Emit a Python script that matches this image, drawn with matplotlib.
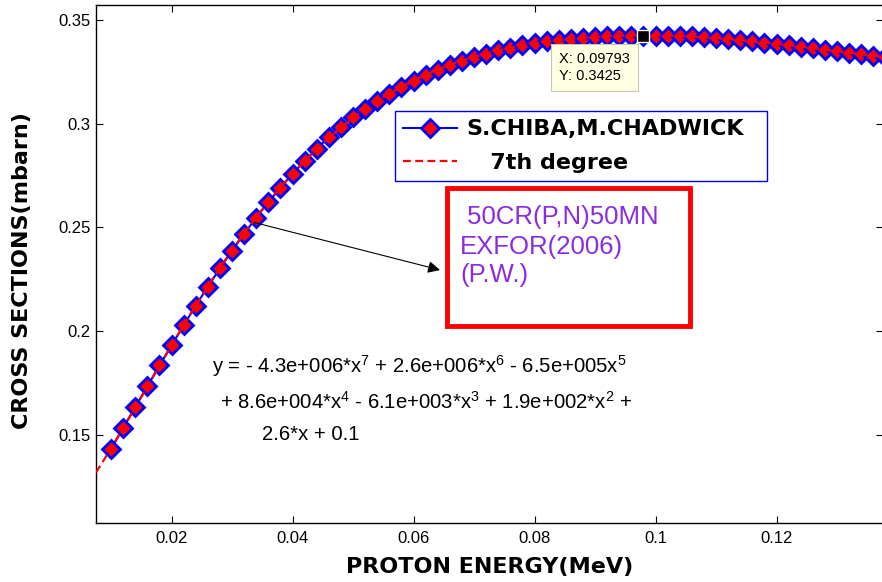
import numpy as np
import matplotlib
matplotlib.use("Agg")
import matplotlib.pyplot as plt
from matplotlib.lines import Line2D
from matplotlib.patches import Rectangle

plt.rcParams['font.family'] = ['Liberation Sans', 'DejaVu Sans']
plt.rcParams['mathtext.default'] = 'regular'

# proton energy (MeV) and cross sections (mbarn)
energy = [0.00993, 0.01193, 0.01393, 0.01593, 0.01793, 0.01993, 0.02193, 0.02393, 0.02593, 0.02793,
          0.02993, 0.03193, 0.03393, 0.03593, 0.03793, 0.03993, 0.04193, 0.04393, 0.04593, 0.04793,
          0.04993, 0.05193, 0.05393, 0.05593, 0.05793, 0.05993, 0.06193, 0.06393, 0.06593, 0.06793,
          0.06993, 0.07193, 0.07393, 0.07593, 0.07793, 0.07993, 0.08193, 0.08393, 0.08593, 0.08793,
          0.08993, 0.09193, 0.09393, 0.09593, 0.09793, 0.09993, 0.10193, 0.10393, 0.10593, 0.10793,
          0.10993, 0.11193, 0.11393, 0.11593, 0.11793, 0.11993, 0.12193, 0.12393, 0.12593, 0.12793,
          0.12993, 0.13193, 0.13393, 0.13593, 0.13793]
xsec = [0.1433, 0.1534, 0.1635, 0.1735, 0.1835, 0.1932, 0.2029, 0.2123, 0.2215, 0.2303,
        0.2388, 0.2470, 0.2548, 0.2622, 0.2692, 0.2759, 0.2821, 0.2880, 0.2935, 0.2985,
        0.3030, 0.3071, 0.3109, 0.3144, 0.3176, 0.3206, 0.3233, 0.3258, 0.3281, 0.3301,
        0.3321, 0.3338, 0.3354, 0.3367, 0.3379, 0.3389, 0.3397, 0.3405, 0.3410, 0.3415,
        0.3419, 0.3422, 0.3424, 0.3425, 0.3425, 0.3425, 0.3424, 0.3423, 0.3421, 0.3417,
        0.3413, 0.3408, 0.3403, 0.3397, 0.3391, 0.3384, 0.3378, 0.3371, 0.3365, 0.3357,
        0.3350, 0.3343, 0.3336, 0.3328, 0.3320]

xticks = [0.02, 0.04, 0.06, 0.08, 0.1, 0.12]
xtick_labels = ['0.02', '0.04', '0.06', '0.08', '0.1', '0.12']
yticks = [0.15, 0.2, 0.25, 0.3, 0.35]
ytick_labels = ['0.15', '0.2', '0.25', '0.3', '0.35']

tip_x, tip_y = 0.09793, 0.3425

box_lines = [' 50CR(P,N)50MN', 'EXFOR(2006)', '(P.W.)']
eq_lines = ['y = - 4.3e+006*x$^{7}$ + 2.6e+006*x$^{6}$ - 6.5e+005x$^{5}$',
            '+ 8.6e+004*x$^{4}$ - 6.1e+003*x$^{3}$ + 1.9e+002*x$^{2}$ +',
            '2.6*x + 0.1']

xlo, xhi = 0.00744, 0.13752
ylo, yhi = 0.1076, 0.3572

# 7th degree fit over the whole x range (like matlab basic fitting)
fit = np.polynomial.Polynomial.fit(energy, xsec, 7)
xf = np.linspace(xlo, xhi, 400)
yf = fit(xf)

W, H = 882, 582
fig = plt.figure(figsize=(W/100, H/100), dpi=100)
ax = fig.add_axes([96/W, 59/H, 787/W, 518/H])

ax.plot(energy, xsec, '-', color='blue', lw=1.5, marker='D', ms=8.8,
        mfc='red', mec='blue', mew=2.0, zorder=3)
ax.plot(xf, yf, '--', color='red', lw=1.6, dashes=(3.5, 2), zorder=4)

ax.set_xlim(xlo, xhi)
ax.set_ylim(ylo, yhi)
ax.set_xticks(xticks)
ax.set_xticklabels(xtick_labels)
ax.set_yticks(yticks)
ax.set_yticklabels(ytick_labels)
ax.tick_params(direction='in', top=True, right=True, length=5, width=0.8,
               labelsize=12)
ax.tick_params(axis='x', pad=6)
ax.tick_params(axis='y', pad=4)
for s in ax.spines.values():
    s.set_linewidth(1.0)

ax.set_xlabel('PROTON ENERGY(MeV)', fontsize=16, fontweight='bold',
              family='DejaVu Sans', va='center')
ax.xaxis.set_label_coords(0.5, (15 - 59) / 518)
ax.set_ylabel('CROSS SECTIONS(mbarn)', fontsize=16, fontweight='bold',
              family='DejaVu Sans', va='center')
ax.yaxis.set_label_coords((22 - 96) / 787, (523 - 271) / 518)

# data tip
ax.plot(tip_x, tip_y, 's', color='black', ms=9, mec='#ffffe1', mew=1, zorder=6)
fig.text(559/W, 1 - 67.5/H, 'X: 0.09793\nY: 0.3425', fontsize=10.5,
         va='center', ha='left', linespacing=1.35, zorder=7,
         bbox=dict(boxstyle='square,pad=0.55', fc='#ffffe1', ec='#c8c8b4', lw=0.8))

# legend
handles = [Line2D([], [], color='blue', lw=1.5, marker='D', ms=8.8, mfc='red',
                  mec='blue', mew=2.0),
           Line2D([], [], color='red', lw=1.6, ls='--', dashes=(3.5, 2))]
leg = fig.legend(handles, ['S.CHIBA,M.CHADWICK', '   7th degree'],
                 loc='upper left', bbox_to_anchor=(395/W, 1 - 111/H, 372/W, 0),
                 mode='expand', fancybox=False, framealpha=1, edgecolor='blue',
                 prop=dict(family='DejaVu Sans', weight='bold', size=16),
                 handlelength=2.4, handletextpad=0.45, borderpad=0.38, labelspacing=0.6,
                 borderaxespad=0)
leg.get_frame().set_linewidth(1.0)

# annotation box
fig.patches.append(Rectangle((447/W, 1 - 326/H), 243/W, 138/H,
                             transform=fig.transFigure, fill=False, ec='red', lw=3.5))
for txt, base in zip(box_lines, [224, 254, 282]):
    fig.text(460/W, 1 - base/H, txt, fontsize=18.5, color='#8a2be2',
             va='baseline', ha='left')

ax.annotate('', xy=(0.0643, 0.2295), xytext=(0.0332, 0.2527),
            arrowprops=dict(arrowstyle='-|>', color='black', lw=0.8,
                            mutation_scale=18, shrinkA=0, shrinkB=0))

for txt, x0, base in zip(eq_lines, [212, 220, 262], [373, 409, 440]):
    fig.text(x0/W, 1 - base/H, txt, fontsize=14.6, va='baseline', ha='left')

fig.savefig('out.png', dpi=100)
